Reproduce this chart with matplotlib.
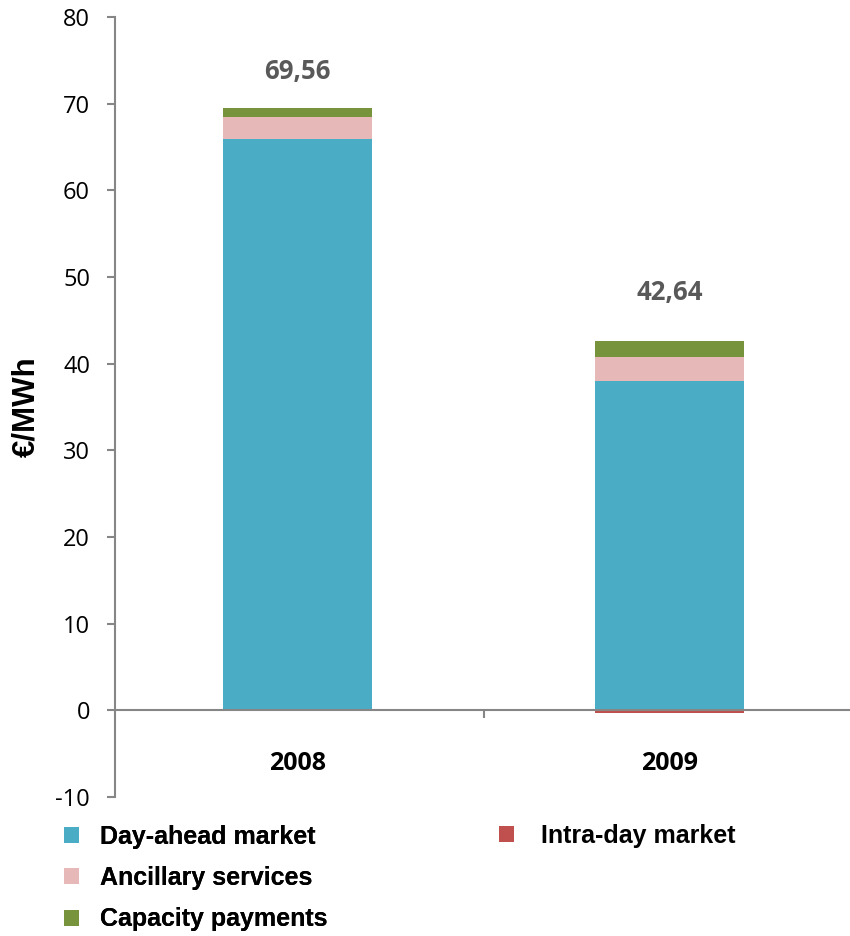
import matplotlib
matplotlib.use("Agg")
from matplotlib import pyplot as plt

years = ["2008", "2009"]
day_ahead = [65.92, 37.98]
ancillary = [2.54, 2.77]
capacity = [1.10, 1.89]
intra_day = [0.0, -0.30]
totals = ["69,56", "42,64"]

series_names = ["Day-ahead market", "Ancillary services", "Capacity payments", "Intra-day market"]
colors = ["#4BACC6", "#E6B9B8", "#77933C", "#C0504D"]
axis_gray = "#868686"

plt.rcParams["axes.unicode_minus"] = False


def main():
    fig = plt.figure(figsize=(8.5, 9.36), dpi=100)
    ax = fig.add_axes([0.1353, 0.1485, 0.8647, 0.8333])

    x = list(range(len(years)))
    w = 0.4
    b1 = ax.bar(x, day_ahead, w, color=colors[0], label=series_names[0], zorder=2)
    b2 = ax.bar(x, ancillary, w, bottom=day_ahead, color=colors[1], label=series_names[1], zorder=2)
    bottom3 = [a + b for a, b in zip(day_ahead, ancillary)]
    b3 = ax.bar(x, capacity, w, bottom=bottom3, color=colors[2], label=series_names[2], zorder=2)
    b4 = ax.bar(x, intra_day, w, color=colors[3], label=series_names[3], zorder=2)

    # total labels above the stacks
    label_gap = [4.1, 5.6]
    for i in x:
        top = day_ahead[i] + ancillary[i] + capacity[i]
        ax.text(i, top + label_gap[i], totals[i], ha="center", va="center",
                fontsize=18.5, fontweight="bold", color="#595959", family="Open Sans")

    ax.set_xlim(-0.4906, 1.485)
    ax.set_ylim(-10, 80)
    ax.set_yticks(range(-10, 81, 10))
    ax.set_xticks(x)
    ax.set_xticklabels(years)
    ax.set_xticks([0.5], minor=True)

    for s in ["top", "right"]:
        ax.spines[s].set_visible(False)
    ax.spines["bottom"].set_position(("data", 0))
    ax.spines["bottom"].set_color(axis_gray)
    ax.spines["left"].set_color(axis_gray)
    ax.spines["bottom"].set_linewidth(1.5)
    ax.spines["left"].set_linewidth(1.5)
    ax.spines["bottom"].set_zorder(3)

    ax.tick_params(axis="x", which="major", length=0, pad=29)
    ax.tick_params(axis="x", which="minor", length=6, width=1.5, color=axis_gray, direction="out")
    ax.tick_params(axis="y", length=6, width=1.5, color=axis_gray, pad=12)
    for lab in ax.get_xticklabels():
        lab.set_family("Open Sans")
        lab.set_fontsize(18)
        lab.set_fontweight("bold")
    for lab in ax.get_yticklabels():
        lab.set_family("Open Sans")
        lab.set_fontsize(17)

    ax.set_ylabel("€/MWh", fontsize=22.5, fontweight="bold", family="Liberation Sans", labelpad=10)

    leg_font = {"family": "Liberation Sans", "weight": "bold", "size": 18}
    leg1 = fig.legend(handles=[b1, b2, b3], labels=series_names[:3], loc="upper left",
                      bbox_to_anchor=(0.06, 0.132), frameon=False, handlelength=0.6,
                      handleheight=0.6, handletextpad=0.85, labelspacing=0.69,
                      borderpad=0, prop=leg_font)
    fig.add_artist(leg1)
    fig.legend(handles=[b4], labels=series_names[3:], loc="upper left",
               bbox_to_anchor=(0.572, 0.133), frameon=False, handlelength=0.6,
               handleheight=0.6, handletextpad=1.1, borderpad=0, prop=leg_font)

    plt.savefig("out.png", dpi=100)


if __name__ == "__main__":
    main()
